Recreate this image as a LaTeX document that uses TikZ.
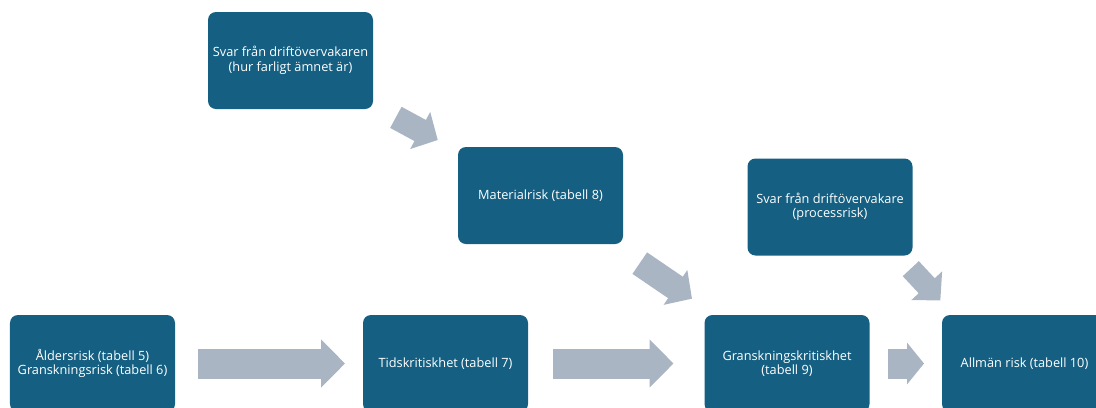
\documentclass[tikz,border=0pt]{standalone}
\usepackage{fontspec}
\setmainfont{Open Sans}
\usetikzlibrary{arrows.meta}
\definecolor{boxteal}{HTML}{156082}
\definecolor{arrowgray}{HTML}{A9B5C3}
\begin{document}
\begin{tikzpicture}[x=1bp,y=-1bp,inner sep=0pt,outer sep=0pt,
riskbox/.style={rectangle,fill=boxteal,rounded corners=8bp,minimum width=165bp,minimum height=97bp,text=white,align=center,font=\fontsize{12.8}{14.5}\selectfont},
widearrow/.style={draw=arrowgray,line width=30bp,-{Triangle[length=24bp,width=47bp]}},
shortarrow/.style={draw=arrowgray,line width=30bp,-{Triangle[length=17bp,width=41bp]}},
slantarrow/.style={draw=arrowgray,line width=24bp,-{Triangle[length=20bp,width=41bp]}}]
\useasboundingbox (0,0) rectangle (1096,407);
\clip (0,0) rectangle (1096,407);
\draw (290.5,60.5) node[riskbox] (svar1) {Svar från driftövervakaren\\(hur farligt ämnet är)};
\draw (540.5,195.5) node[riskbox] (matrisk) {Materialrisk (tabell 8)};
\draw (830,207) node[riskbox] (svar2) {Svar från driftövervakare\\(processrisk)};
\draw (92.5,363.5) node[riskbox] (alder) {Åldersrisk (tabell 5)\\Granskningsrisk (tabell 6)};
\draw (445.5,363.5) node[riskbox] (tid) {Tidskritiskhet (tabell 7)};
\draw (787,363.5) node[riskbox] (gransk) {Granskningskritiskhet\\(tabell 9)};
\draw (1024.5,363.5) node[riskbox] (allman) {Allmän risk (tabell 10)};
\draw[slantarrow,shorten <=26bp,shorten >=23bp] (svar1) -- (matrisk);
\draw[slantarrow,line width=26bp,shorten <=34bp,shorten >=29bp] (matrisk) -- (gransk);
\draw[slantarrow,line width=22bp,shorten <=18bp,shorten >=20bp] ([xshift=-14bp]svar2.south east) -- ([xshift=12bp]allman.north west);
\draw[widearrow,shorten <=23bp,shorten >=18bp] (alder) -- (tid);
\draw[widearrow,shorten <=25bp,shorten >=31bp] (tid) -- (gransk);
\draw[shortarrow,shorten <=18bp,shorten >=18bp] (gransk) -- (allman);
\end{tikzpicture}
\end{document}
